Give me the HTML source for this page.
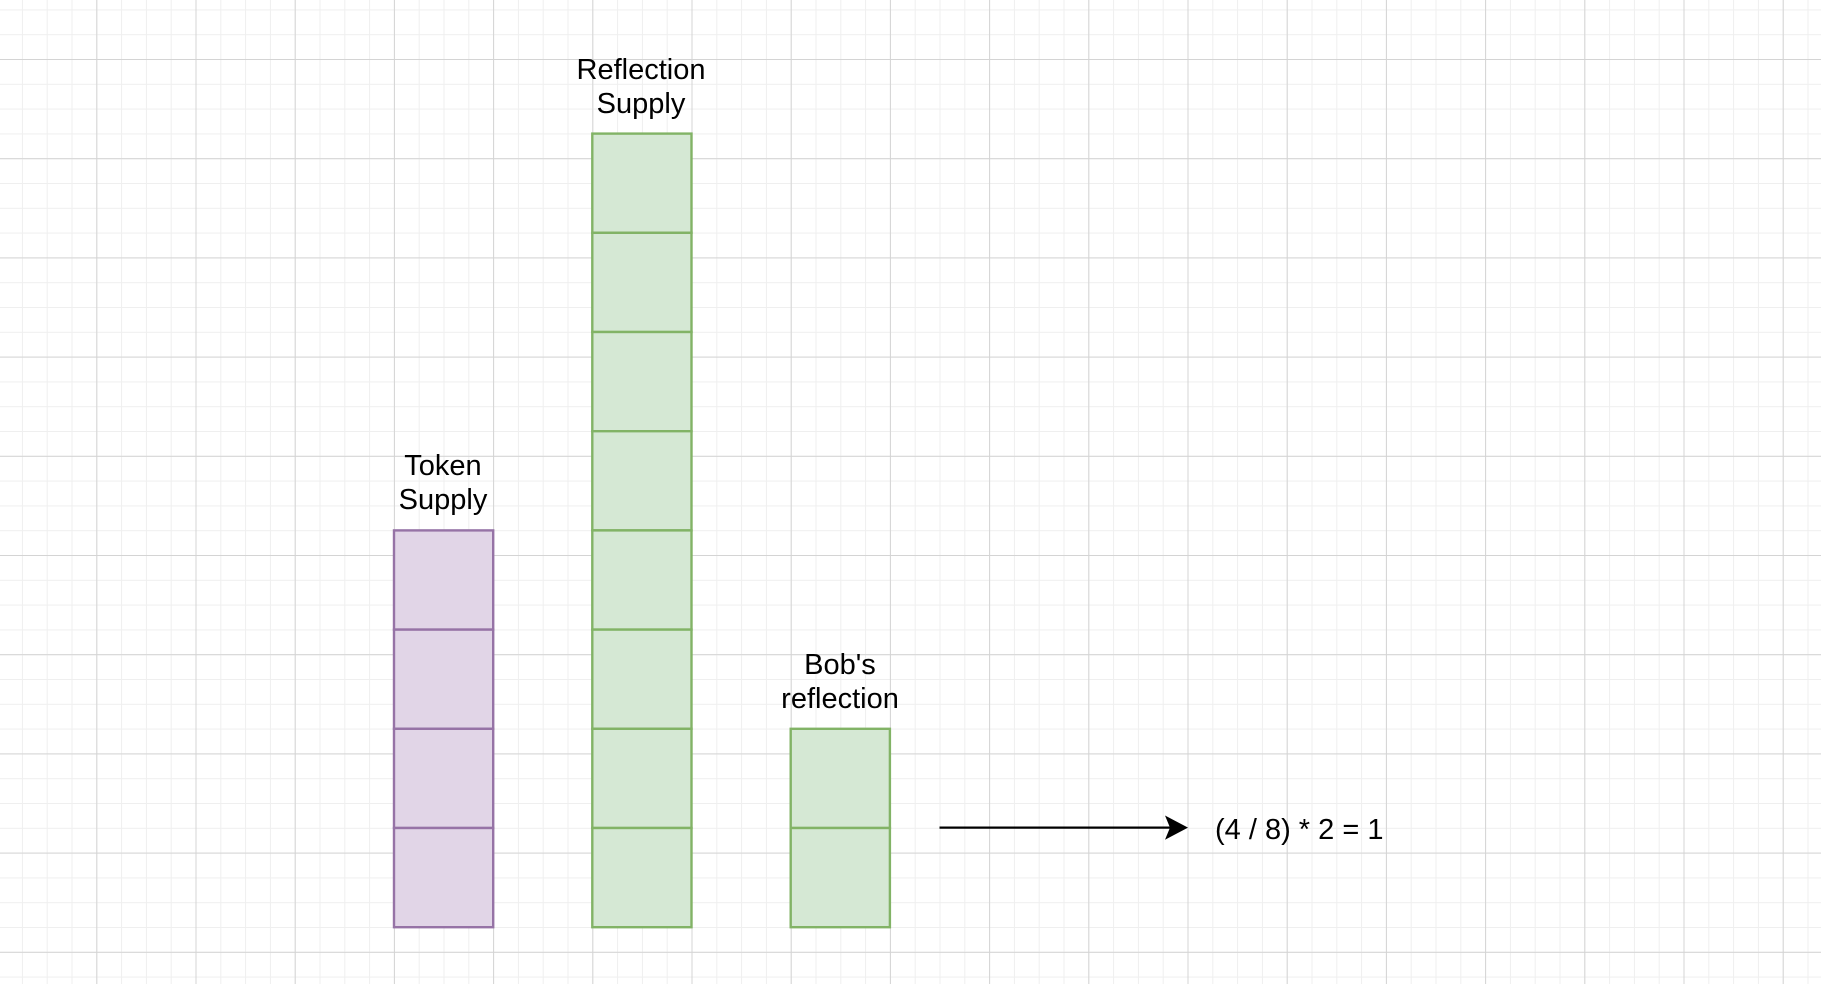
<!DOCTYPE html>
<html><head><meta charset="utf-8"><style>
html,body{margin:0;padding:0;background:#fff;}
svg{display:block}
text{font-family:"Liberation Sans",Arial,sans-serif;font-size:29px;fill:#000}
</style></head><body>
<svg width="1821" height="984" xmlns="http://www.w3.org/2000/svg">
<defs>
<pattern id="minor" x="96.3" y="59" width="24.8" height="24.8" patternUnits="userSpaceOnUse">
<path d="M0 0V24.8M0 0H24.8" stroke="#efefef" stroke-width="2" fill="none"/>
</pattern>
<pattern id="major" x="96.3" y="59" width="99.2" height="99.2" patternUnits="userSpaceOnUse">
<path d="M0 0V99.2M0 0H99.2" stroke="#d4d4d4" stroke-width="2" fill="none"/>
</pattern>
</defs>
<rect width="1821" height="984" fill="#fff"/>
<rect width="1821" height="984" fill="url(#minor)"/>
<rect width="1821" height="984" fill="url(#major)"/>

<g fill="#e1d5e7" stroke="#9673a6" stroke-width="2.4">
<rect x="394" y="530.4" width="99.2" height="99.2"/>
<rect x="394" y="629.6" width="99.2" height="99.2"/>
<rect x="394" y="728.8" width="99.2" height="99.2"/>
<rect x="394" y="828" width="99.2" height="99.2"/>
</g>
<g fill="#d5e8d4" stroke="#82b366" stroke-width="2.4">
<rect x="592.3" y="133.6" width="99.2" height="99.2"/>
<rect x="592.3" y="232.8" width="99.2" height="99.2"/>
<rect x="592.3" y="332" width="99.2" height="99.2"/>
<rect x="592.3" y="431.2" width="99.2" height="99.2"/>
<rect x="592.3" y="530.4" width="99.2" height="99.2"/>
<rect x="592.3" y="629.6" width="99.2" height="99.2"/>
<rect x="592.3" y="728.8" width="99.2" height="99.2"/>
<rect x="592.3" y="828" width="99.2" height="99.2"/>
<rect x="790.7" y="728.8" width="99.2" height="99.2"/>
<rect x="790.7" y="828" width="99.2" height="99.2"/>
</g>

<text x="641" y="79" text-anchor="middle">Reflection</text>
<text x="641" y="113" text-anchor="middle">Supply</text>
<text x="443" y="475" text-anchor="middle">Token</text>
<text x="443" y="509" text-anchor="middle">Supply</text>
<text x="840" y="674" text-anchor="middle">Bob's</text>
<text x="840" y="708" text-anchor="middle">reflection</text>

<line x1="939.5" y1="827.6" x2="1176" y2="827.6" stroke="#000" stroke-width="2.2"/>
<path d="M1188 827.6 L1165 815.5 L1170 827.6 L1165 839.7 Z" fill="#000"/>
<text x="1215" y="839">(4 / 8) * 2 = 1</text>
</svg>
</body></html>
